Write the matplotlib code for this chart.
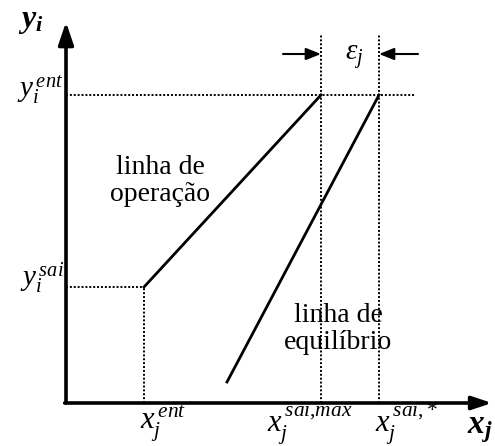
import matplotlib
matplotlib.use('Agg')
import matplotlib.pyplot as plt

plt.rcParams['font.family'] = 'Liberation Serif'
plt.rcParams['mathtext.fontset'] = 'custom'
plt.rcParams['mathtext.rm'] = 'Liberation Serif'
plt.rcParams['mathtext.it'] = 'Liberation Serif:italic'
plt.rcParams['mathtext.bf'] = 'Liberation Serif:bold:italic'

# schematic positions (axis origin at 0,0)
x_ent = 78
x_sai_max = 255
x_sai_star = 313
y_sai = 116
y_ent = 308

# operating line and equilibrium line end points
op_x = [x_ent, x_sai_max]
op_y = [y_sai, y_ent]
eq_x = [161, x_sai_star]
eq_y = [21, y_ent]

x_top = 426
y_top = 381
guide_top = 368
eps_y = 349

fig = plt.figure(figsize=(4.95, 4.46), dpi=100)
ax = fig.add_axes([0, 0, 1, 1])
ax.set_xlim(-66, 429)
ax.set_ylim(-43, 403)
ax.axis('off')

dot = dict(color='black', lw=1.4, ls=(0, (1, 1)))

# axes with arrow heads
ax.annotate('', xy=(0, y_top), xytext=(0, 0),
            arrowprops=dict(arrowstyle='-|>,head_length=0.68,head_width=0.23',
                            lw=2.6, color='black', mutation_scale=20,
                            shrinkA=0, shrinkB=0))
ax.annotate('', xy=(x_top, 0), xytext=(-1.3, 0),
            arrowprops=dict(arrowstyle='-|>,head_length=0.6,head_width=0.2',
                            lw=2.6, color='black', mutation_scale=20,
                            shrinkA=0, shrinkB=0))

# dotted guides
ax.plot([0, 350], [y_ent, y_ent], **dot)
ax.plot([0, x_ent], [y_sai, y_sai], **dot)
ax.plot([x_ent, x_ent], [0, y_sai], **dot)
ax.plot([x_sai_max, x_sai_max], [0, guide_top], **dot)
ax.plot([x_sai_star, x_sai_star], [0, guide_top], **dot)

# lines
ax.plot(op_x, op_y, color='black', lw=2)
ax.plot(eq_x, eq_y, color='black', lw=2)

# epsilon arrows
ax.annotate('', xy=(x_sai_max, eps_y), xytext=(217, eps_y),
            arrowprops=dict(arrowstyle='-|>,head_length=0.45,head_width=0.18',
                            lw=1.5, color='black', mutation_scale=20,
                            shrinkA=0, shrinkB=0))
ax.annotate('', xy=(x_sai_star, eps_y), xytext=(352, eps_y),
            arrowprops=dict(arrowstyle='-|>,head_length=0.45,head_width=0.18',
                            lw=1.5, color='black', mutation_scale=20,
                            shrinkA=0, shrinkB=0))
ax.text(288, eps_y - 3, r'$\varepsilon_j$', fontsize=21, ha='center', va='center')

# axis labels
ax.text(-35, y_top, r'$\mathbf{y_i}$', fontsize=23, ha='center', va='center')
ax.text(414, -27, r'$\mathbf{x_j}$', fontsize=24, ha='center', va='center')
ax.text(-3, y_ent + 5, r'$y_i^{\,ent}$', fontsize=21, ha='right', va='center')
ax.text(-2, y_sai + 9, r'$y_i^{\,sai}$', fontsize=21, ha='right', va='center')
ax.text(97, -21, r'$x_j^{\,ent}$', fontsize=22, ha='center', va='center')
ax.text(244, -21, r'$x_j^{\,sai{,}max}$', fontsize=22, ha='center', va='center')
ax.text(340, -21, r'$x_j^{\,sai{,}*}$', fontsize=22, ha='center', va='center')

ax.text(94, 222, 'linha de\noperação', fontsize=20, ha='center', va='center',
        linespacing=1.15)
ax.text(272, 74, 'linha de\nequilíbrio', fontsize=20, ha='center', va='center',
        linespacing=1.15)

fig.savefig('out.png', dpi=100)
